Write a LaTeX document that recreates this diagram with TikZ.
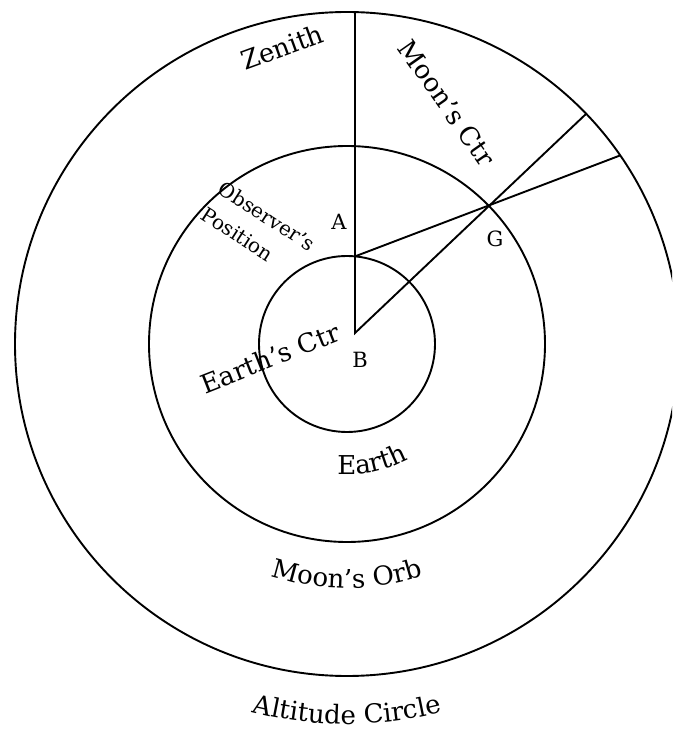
\documentclass[tikz,border=0pt]{standalone}
\usepackage{fontspec}
\setmainfont{DejaVu Serif}
\usepackage{tikz}
\usetikzlibrary{calc}
\usetikzlibrary{decorations.text}

\def\rEarth{88}  % radius of the earth
\def\rOrb{198}   % radius of the moon's orb
\def\rAlt{332}   % radius of the altitude circle

\tikzset{
  lbl/.style={font=\fontsize{26}{31}\selectfont, inner sep=0pt},
  ptlbl/.style={font=\fontsize{21}{25}\selectfont, inner sep=0pt},
}

\begin{document}
\begin{tikzpicture}[x=1pt, y=1pt, line width=1.9pt]

% frame
\useasboundingbox (-347,-389) rectangle (325,344);
\clip (-347,-389) rectangle (325,344);

% the three circles
\draw (0,0) circle (\rEarth);
\draw (0,0) circle (\rOrb);
\draw (0,0) circle (\rAlt);

% points
\coordinate (B) at (8,11);
\coordinate (A) at (8,87.6);
\coordinate (Z) at (8,331.9);
\coordinate (G) at (143,139);
\coordinate (Mc) at ($(B)!1.7127!(G)$);
\coordinate (Ma) at ($(A)!1.9624!(G)$);

% lines
\draw (Z) -- (B) -- (Mc);
\draw (A) -- (Ma);

% straight labels
\node[lbl, rotate=20] (zen) at (-65,297) {Zenith};
\node[lbl, rotate=-55] (mctr) at (100,241) {Moon's Ctr};
\node[font=\fontsize{20}{31}\selectfont, rotate=-33, align=left, inner sep=0pt] (obs) at (-88.5,115) {Observer's\\Position};
\node[lbl, rotate=21.6] (ectr) at (-77,-14) {Earth's Ctr};
\node[ptlbl] (a) at (-8,122) {A};
\node[ptlbl] (g) at (148,105) {G};
\node[ptlbl] (b) at (13,-16) {B};

% curved labels
\path[decorate, decoration={text along path, text align=center,
  text={|\fontsize{26}{31}\selectfont|Earth}}]
  (262:131) arc[start angle=262, end angle=302, radius=131];
\path[decorate, decoration={text along path, text align=center,
  text={|\fontsize{26}{31}\selectfont|Moon's Orb}}]
  (250:244) arc[start angle=250, end angle=290, radius=244];
\path[decorate, decoration={text along path, text align=center,
  text={|\fontsize{26}{31}\selectfont|Altitude Circle}}]
  (250:380) arc[start angle=250, end angle=290, radius=380];

\end{tikzpicture}
\end{document}
